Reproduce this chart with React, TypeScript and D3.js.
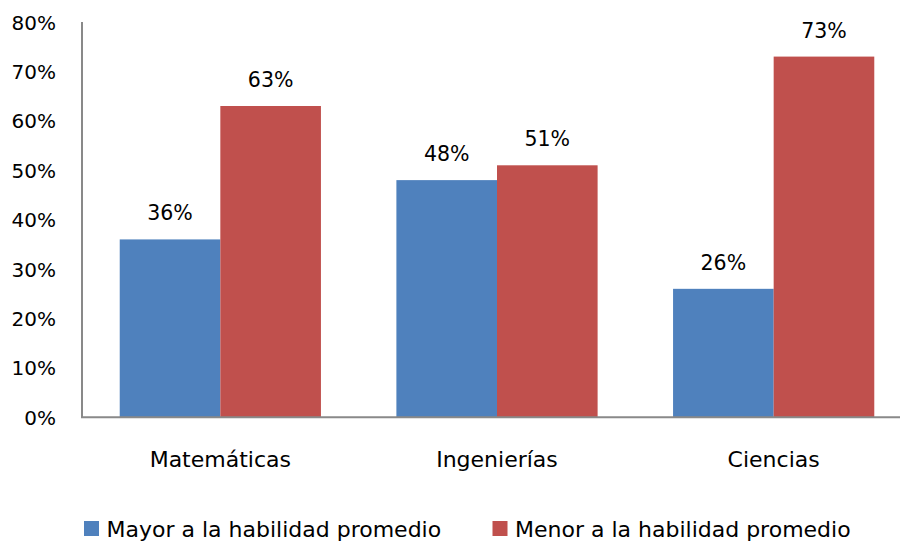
import React from "react";
import * as d3 from "d3";

const categories = ["Matemáticas", "Ingenierías", "Ciencias"];
const seriesNames = ["Mayor a la habilidad promedio", "Menor a la habilidad promedio"];
const mayor = [36, 48, 26];
const menor = [63, 51, 73];
const yTicks = [0, 10, 20, 30, 40, 50, 60, 70, 80];
const colors = ["#4F81BD", "#C0504D"];

const W = 900;
const H = 545;
const FONT = "'DejaVu Sans', sans-serif";

export default function App() {
  const left = 82;
  const right = 912;
  const top = 22;
  const bottom = 417.3;

  const y = d3.scaleLinear().domain([0, 80]).range([bottom, top]);
  const x0 = d3
    .scaleBand<string>()
    .domain(categories)
    .range([left, right])
    .paddingInner(0.2727)
    .paddingOuter(0.13635);
  const x1 = d3
    .scaleBand<string>()
    .domain(seriesNames)
    .range([0, x0.bandwidth()])
    .padding(0);

  const seriesValues = [mayor, menor];

  return (
    <svg
      width={W}
      height={H}
      style={{ position: "absolute", left: 0, top: 0, background: "#fff" }}
      fontFamily={FONT}
    >
      {/* bars */}
      {categories.map((c, i) =>
        seriesNames.map((s, j) => {
          const v = seriesValues[j][i];
          const bx = (x0(c) ?? 0) + (x1(s) ?? 0);
          const by = y(v);
          return (
            <g key={c + s}>
              <rect
                x={bx}
                y={by}
                width={x1.bandwidth()}
                height={bottom - by}
                fill={colors[j]}
              />
              <text
                x={bx + x1.bandwidth() / 2}
                y={by - 19}
                textAnchor="middle"
                fontSize={20.5}
                fill="#000"
              >
                {v}%
              </text>
            </g>
          );
        })
      )}

      {/* y axis */}
      <line x1={left} x2={left} y1={top} y2={bottom} stroke="#898989" strokeWidth={2} />
      {yTicks.map((t) => (
        <text
          key={t}
          x={56}
          y={y(t)}
          dy="0.38em"
          textAnchor="end"
          fontSize={20}
          fill="#000"
        >
          {t}%
        </text>
      ))}

      {/* x axis */}
      <line x1={left - 1} x2={W} y1={bottom} y2={bottom} stroke="#898989" strokeWidth={2} />
      {categories.map((c) => (
        <text
          key={c}
          x={(x0(c) ?? 0) + x0.bandwidth() / 2}
          y={466.5}
          textAnchor="middle"
          fontSize={22}
          fill="#000"
        >
          {c}
        </text>
      ))}

      {/* legend */}
      {seriesNames.map((s, j) => {
        const lx = [84, 492.5][j];
        return (
          <g key={s}>
            <rect x={lx} y={521} width={15} height={15} fill={colors[j]} />
            <text x={lx + 22.5} y={536.5} fontSize={22} fill="#000">
              {s}
            </text>
          </g>
        );
      })}
    </svg>
  );
}
